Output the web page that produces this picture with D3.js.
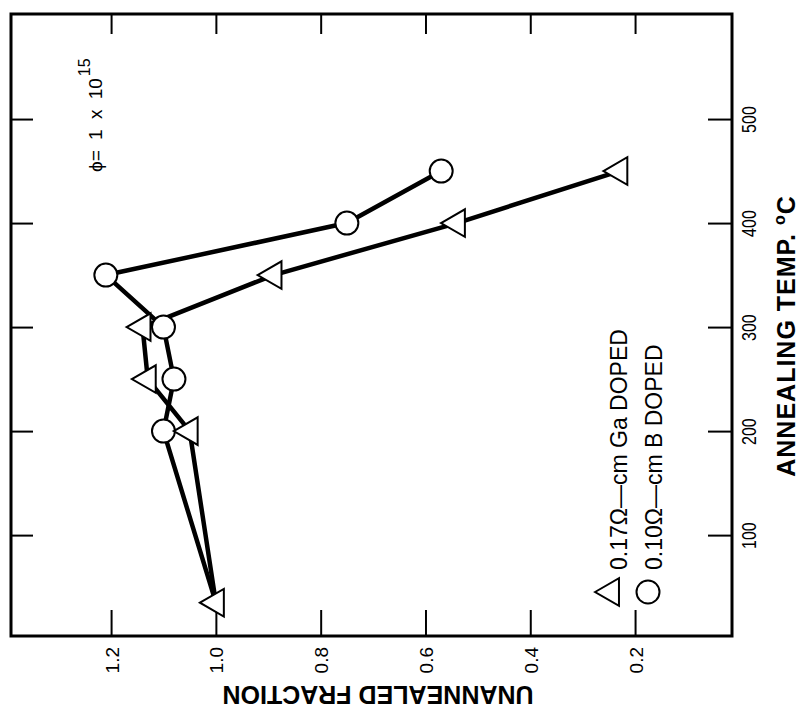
<!DOCTYPE html>
<html>
<head>
<meta charset="utf-8">
<script src="https://cdn.jsdelivr.net/npm/d3@7"></script>
<style>
  body { margin: 0; background: #fff; }
  svg { display: block; }
  text { font-family: "Liberation Sans", Arial, sans-serif; fill: #000; }
</style>
</head>
<body>
<div id="chart"></div>
<script>
// annealing temperature (deg C) and unannealed fraction, figure is drawn rotated 90 deg
const temps = [35, 200, 250, 300, 350, 400, 450];
const gaFraction = [1.0, 1.05, 1.13, 1.14, 0.89, 0.54, 0.23];
const bFraction = [1.0, 1.10, 1.08, 1.10, 1.21, 0.75, 0.57];
const fractionTicks = [1.2, 1.0, 0.8, 0.6, 0.4, 0.2];
const tempTicks = [100, 200, 300, 400, 500];

const width = 803, height = 713;
const plotLeft = 11, plotRight = 732, plotTop = 14, plotBottom = 636;

const svg = d3.select("#chart").append("svg")
    .attr("width", width)
    .attr("height", height);

// fraction runs right-to-left along the bottom, temperature bottom-to-top on the right
const x = d3.scaleLinear().domain([1.391, 0.015]).range([plotLeft, plotRight]);
const y = d3.scaleLinear().domain([3, 601]).range([plotBottom, plotTop]);

function styleAxis(g) {
  g.select(".domain").remove();
  g.selectAll(".tick line").attr("stroke", "#000").attr("stroke-width", 2);
  g.selectAll(".tick text").attr("fill", "#000")
      .attr("font-family", "Liberation Sans, Arial, sans-serif");
}

svg.append("g")
    .attr("transform", `translate(0,${plotBottom})`)
    .call(d3.axisBottom(x).tickValues(fractionTicks).tickSize(-26).tickFormat(d3.format(".1f")))
    .call(styleAxis)
    .call(g => g.selectAll(".tick text")
        .attr("y", null).attr("dy", null)
        .attr("font-size", 19)
        .attr("text-anchor", "end")
        .attr("transform", "translate(7,11) rotate(-90)"));

svg.append("g")
    .attr("transform", `translate(0,${plotTop})`)
    .call(d3.axisTop(x).tickValues(fractionTicks).tickSize(-20).tickFormat(""))
    .call(styleAxis);

svg.append("g")
    .attr("transform", `translate(${plotRight},0)`)
    .call(d3.axisRight(y).tickValues(tempTicks).tickSize(-24))
    .call(styleAxis)
    .call(g => g.selectAll(".tick text")
        .attr("x", null).attr("dy", null)
        .attr("font-size", 20)
        .attr("text-anchor", "middle")
        .attr("transform", "translate(24,0) rotate(-90) scale(0.8,1)"));

svg.append("g")
    .attr("transform", `translate(${plotLeft},0)`)
    .call(d3.axisLeft(y).tickValues(tempTicks).tickSize(-22).tickFormat(""))
    .call(styleAxis);

svg.append("rect")
    .attr("x", plotLeft).attr("y", plotTop)
    .attr("width", plotRight - plotLeft).attr("height", plotBottom - plotTop)
    .attr("fill", "none").attr("stroke", "#000").attr("stroke-width", 3);

// axis titles
svg.append("text")
    .attr("transform", `translate(378,686) rotate(180)`)
    .attr("text-anchor", "middle")
    .attr("font-weight", "bold")
    .attr("font-size", 25)
    .text("UNANNEALED FRACTION");

const tTitle = svg.append("text")
    .attr("transform", `translate(795,336) rotate(-90)`)
    .attr("text-anchor", "middle")
    .attr("font-weight", "bold")
    .attr("font-size", 25)
    .attr("letter-spacing", 1);
tTitle.append("tspan").text("ANNEALING TEMP. ");
tTitle.append("tspan").attr("dy", -10).attr("font-size", 16).text("o");
tTitle.append("tspan").attr("dy", 10).text("C");

// fluence note
const phi = svg.append("text")
    .attr("transform", `translate(102,172) rotate(-90)`)
    .attr("font-size", 19)
    .attr("word-spacing", 5);
phi.append("tspan").text("\u03d5");
phi.append("tspan").text("= 1 x 10");
phi.append("tspan").attr("dy", -12).attr("dx", 2).attr("font-size", 16).text("15");

const series = [
  {values: bFraction, shape: "circle"},
  {values: gaFraction, shape: "triangle"}
];

const line = d3.line()
    .x(d => x(d[1]))
    .y(d => y(d[0]));

series.forEach(s => {
  svg.append("path")
      .datum(temps.map((t, i) => [t, s.values[i]]))
      .attr("d", line)
      .attr("fill", "none")
      .attr("stroke", "#000")
      .attr("stroke-width", 4.5)
      .attr("stroke-linejoin", "round");
});

const tri = d3.symbol().type(d3.symbolTriangle).size(330);

function marker(g, shape, cx, cy) {
  if (shape === "circle") {
    g.append("circle")
        .attr("cx", cx).attr("cy", cy).attr("r", 11.5)
        .attr("fill", "#fff").attr("stroke", "#000").attr("stroke-width", 2);
  } else {
    g.append("path")
        .attr("d", tri())
        .attr("transform", `translate(${cx},${cy}) rotate(-90)`)
        .attr("fill", "#fff").attr("stroke", "#000").attr("stroke-width", 2);
  }
}

// both series share the starting point, which the original shows as a single triangle
series.forEach(s => {
  const g = svg.append("g");
  temps.forEach((t, i) => {
    if (s.shape === "circle" && i === 0) return;
    marker(g, s.shape, x(s.values[i]), y(t));
  });
});

// legend
const legend = svg.append("g");
marker(legend, "triangle", 611, 592);
legend.append("text")
    .attr("transform", "translate(627,570) rotate(-90)")
    .attr("font-size", 23)
    .text("0.17\u03a9\u2014cm Ga DOPED");
marker(legend, "circle", 648, 592);
legend.append("text")
    .attr("transform", "translate(662,570) rotate(-90)")
    .attr("font-size", 23)
    .text("0.10\u03a9\u2014cm B DOPED");
</script>
</body>
</html>
